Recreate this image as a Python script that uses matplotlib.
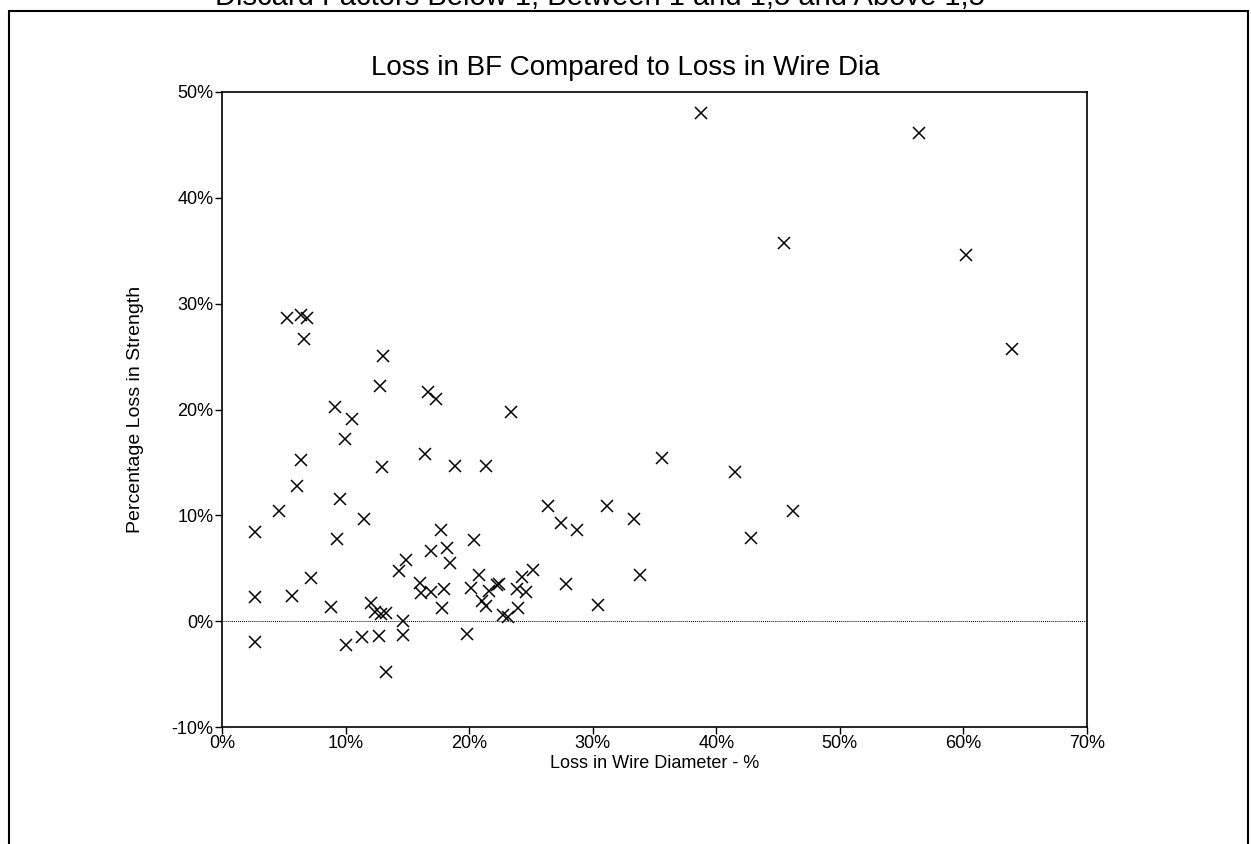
import matplotlib
matplotlib.use("Agg")
import matplotlib.pyplot as plt
from matplotlib.patches import Rectangle
from matplotlib.ticker import FuncFormatter

plt.rcParams['font.family'] = ['Liberation Sans', 'DejaVu Sans']

# Loss in wire diameter (%) vs. percentage loss in breaking strength (%)
wire_loss = [
    2.67, 2.67, 2.67, 4.64, 5.66, 6.04, 7.22, 8.84, 9.33, 9.55,
    11.5, 12.08, 12.35, 12.86, 13.27, 10.03, 11.35, 12.7, 14.62, 13.24,
    14.67, 14.35, 14.86, 16.04, 16.1, 16.9, 17.94, 17.72, 16.93, 18.23,
    18.45, 17.82, 19.8, 20.41, 20.79, 20.12, 21.01, 21.33, 21.63, 22.22,
    22.4, 22.71, 23.16, 23.84, 24.3, 24.57, 23.92, 25.19, 26.35, 27.45,
    28.7, 31.12, 33.33, 27.8, 30.4, 33.8, 35.62, 41.5, 46.22, 42.8,
    38.73, 56.4, 45.47, 60.17, 63.97, 5.23, 6.37, 6.9, 6.66, 13.03,
    12.8, 16.69, 17.29, 23.38, 9.14, 10.54, 9.95, 6.39, 16.42, 12.92,
    18.85, 21.33,
]
strength_loss = [
    8.4, 2.3, -1.97, 10.4, 2.4, 12.8, 4.05, 1.34, 7.8, 11.55,
    9.7, 1.72, 0.9, 0.7, 0.8, -2.29, -1.53, -1.37, -1.34, -4.77,
    0.0, 4.77, 5.78, 3.6, 2.7, 2.8, 3.0, 8.58, 6.64, 6.92,
    5.5, 1.21, -1.21, 7.7, 4.33, 3.1, 1.87, 1.4, 2.82, 3.45,
    3.54, 0.61, 0.36, 3.07, 4.14, 2.72, 1.25, 4.87, 10.85, 9.28,
    8.65, 10.85, 9.7, 3.52, 1.56, 4.4, 15.39, 14.1, 10.38, 7.83,
    48.0, 46.1, 35.7, 34.6, 25.7, 28.6, 28.9, 28.6, 26.67, 25.1,
    22.2, 21.7, 21.0, 19.77, 20.2, 19.1, 17.25, 15.26, 15.77, 14.6,
    14.7, 14.7,
]

x_ticks = [0, 10, 20, 30, 40, 50, 60, 70]
y_ticks = [-10, 0, 10, 20, 30, 40, 50]

W, H = 1251, 844
fig = plt.figure(figsize=(W / 100, H / 100), dpi=100)

# outer border of the page box
fig.patches.append(Rectangle((9 / W, -0.05), (1248 - 9) / W, 1.05 - 11 / H,
                             transform=fig.transFigure, fill=False,
                             edgecolor='black', linewidth=1.5))

# heading of the page, runs off the top edge
fig.text(600 / W, 1 - 5 / H, 'Discard Factors Below 1, Between 1 and 1,5 and Above 1,5',
         ha='center', va='baseline', fontsize=21)
fig.text(625 / W, 1 - 68 / H, 'Loss in BF Compared to Loss in Wire Dia',
         ha='center', va='center', fontsize=20)

ax = fig.add_axes([222 / W, (H - 727) / H, (1087 - 222) / W, (727 - 92) / H])
ax.plot(wire_loss, strength_loss, linestyle='none', marker='x', color='black',
        markersize=9, markeredgewidth=1.1)
ax.axhline(0, color='black', linestyle=(0, (1, 1)), linewidth=0.7)

ax.set_xlim(0, 70)
ax.set_ylim(-10, 50)
ax.set_xticks(x_ticks)
ax.set_yticks(y_ticks)
pct = FuncFormatter(lambda v, _: f'{v:.0f}%')
ax.xaxis.set_major_formatter(pct)
ax.yaxis.set_major_formatter(pct)
ax.tick_params(direction='out', length=5, width=1, labelsize=13, pad=1)
for s in ax.spines.values():
    s.set_linewidth(1.2)

ax.set_xlabel('Loss in Wire Diameter - %', fontsize=13, labelpad=2)
ax.set_ylabel('Percentage Loss in Strength', fontsize=14, labelpad=20)

fig.savefig('out.png', dpi=100)
